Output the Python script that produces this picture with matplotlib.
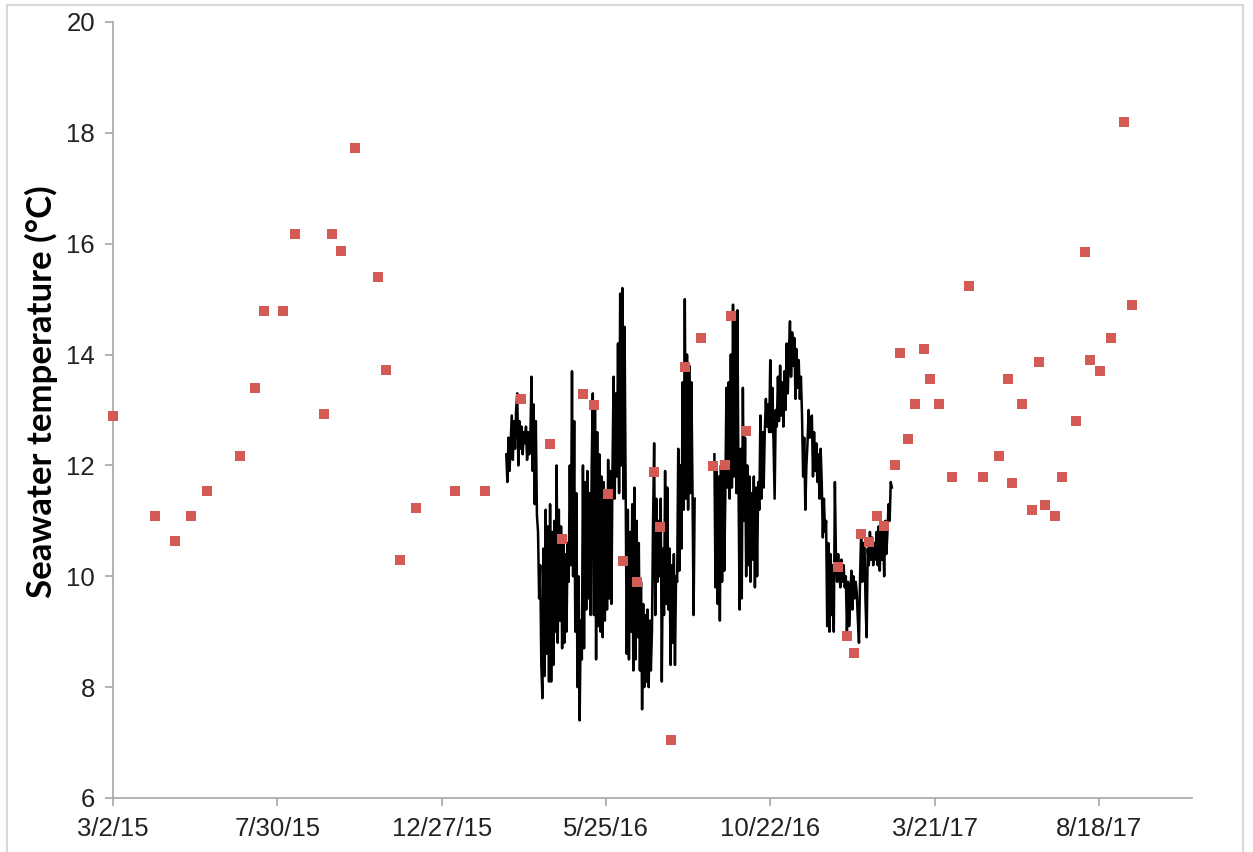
import numpy as np
import pandas as pd
import matplotlib
matplotlib.use('Agg')
import matplotlib.pyplot as plt
from matplotlib.ticker import FuncFormatter
from matplotlib.patches import Rectangle

plt.rcParams['font.family'] = ['Liberation Sans', 'DejaVu Sans']

# discrete water samples (red squares)
sample_dates = ['2015-03-02', '2015-04-09', '2015-04-28', '2015-05-12', '2015-05-27',
                '2015-06-26', '2015-07-10', '2015-07-18', '2015-08-04', '2015-08-15',
                '2015-09-11', '2015-09-18', '2015-09-26', '2015-10-09', '2015-10-30',
                '2015-11-06', '2015-11-19', '2015-12-04', '2016-01-08', '2016-02-05',
                '2016-03-08', '2016-04-04', '2016-04-15', '2016-05-04', '2016-05-14',
                '2016-05-27', '2016-06-10', '2016-06-22', '2016-07-08', '2016-07-13',
                '2016-07-23', '2016-08-05', '2016-08-20', '2016-08-31', '2016-09-11',
                '2016-09-16', '2016-09-30', '2016-12-23', '2016-12-31', '2017-01-06',
                '2017-01-13', '2017-01-20', '2017-01-27', '2017-02-03', '2017-02-13',
                '2017-02-17', '2017-02-25', '2017-03-03', '2017-03-11', '2017-03-17',
                '2017-03-25', '2017-04-06', '2017-04-21', '2017-05-04', '2017-05-19',
                '2017-05-27', '2017-05-31', '2017-06-09', '2017-06-18', '2017-06-24',
                '2017-06-30', '2017-07-09', '2017-07-15', '2017-07-28', '2017-08-05',
                '2017-08-10', '2017-08-19', '2017-08-29', '2017-09-10', '2017-09-17']
sample_temp = [12.90, 11.09, 10.63, 11.09, 11.54,
               12.17, 13.40, 14.79, 14.79, 16.18,
               12.93, 16.18, 15.87, 17.72, 15.40,
               13.72, 10.30, 11.24, 11.54, 11.54,
               13.20, 12.39, 10.67, 13.29, 13.09,
               11.48, 10.27, 9.89, 11.89, 10.88,
               7.05, 13.78, 14.30, 11.99, 12.00,
               14.70, 12.62, 10.16, 8.93, 8.61,
               10.77, 10.61, 11.08, 10.91, 12.00,
               14.02, 12.48, 13.11, 14.10, 13.56,
               13.11, 11.79, 15.24, 11.79, 12.17,
               13.56, 11.69, 13.11, 11.20, 13.86,
               11.29, 11.09, 11.79, 12.80, 15.85,
               13.90, 13.70, 14.30, 18.19, 14.89]

# temperature logger, one reading per day from 2/24/16 (nan = no data)
logger_start = '2016-02-24'
logger_temp = [
    12.2, 11.7, 12.5, 11.9, 12.4, 12.9, 12.1, 12.8, 12.3, 13.0,
    13.3, 12.0, 12.8, 12.3, 12.7, 12.2, 12.6, 12.4, 12.7,
    12.1, 12.6, 12.2, 12.5, 13.6, 11.9, 13.1, 11.3, 12.8, 11.1,
    10.8, 9.6, 10.2, 8.4, 7.8, 10.5, 8.2, 11.2, 8.6, 10.9, 8.1,
    11.3, 8.1, 10.8, 8.4, 11.0, 9.0, 12.0, 8.8, 11.2, 9.2, 10.9, 8.7,
    10.7, 8.8, 10.4, 9.0, 10.6, 9.9, 12.0, 10.2, 13.7, 10.0,
    12.8, 9.0, 11.5, 8.0, 10.0, 7.4, 9.2, 8.5, 12.0, 8.7, 11.7,
    9.4, 11.9, 9.6, 11.5, 9.3, 12.0, 13.3, 9.3, 13.1, 8.5, 12.6,
    9.1, 12.2, 9.0, 11.8, 8.9, 11.7, 9.2, 11.5, 9.4, 12.1, 9.6, 11.9, 9.5,
    12.0, 13.6, 11.4, 13.3, 11.8, 14.2, 11.5, 15.1, 12.0, 15.2, 11.4, 14.5,
    11.4, 8.6, 11.2, 8.5, 10.8, 9.0, 11.3, 8.3, 11.6, 8.5, 11.0, 8.9, 10.6, 8.3,
    9.9, 7.6, 9.5, 8.0, 9.3, 8.1, 9.4, 8.0, 9.2, 8.3, 9.0,
    11.0, 12.4, 9.3, 11.4, 9.9, 11.0, 10.0, 11.4, 8.1, 10.5,
    9.3, 11.9, 9.5, 11.6, 9.4, 10.5, 8.4, 10.2, 8.8, 10.4, 8.4, 10.0,
    9.9, 12.3, 10.1, 12.0, 10.5, 13.5, 11.2, 15.0, 11.4,
    14.0, 11.2, 13.8, 11.5, 13.5, 11.6, 9.3, 11.4,
    np.nan, np.nan, np.nan, np.nan, np.nan, np.nan, np.nan, np.nan, np.nan,
    np.nan, np.nan, np.nan, np.nan, np.nan, np.nan, np.nan, np.nan,
    12.2, 9.8, 12.0, 9.5, 11.8, 9.2, 12.0, 9.9, 11.9, 10.1,
    11.5, 13.4, 11.6, 13.5, 11.4, 14.0, 11.6, 14.9, 11.8, 14.7, 11.5, 14.8,
    11.7, 9.4, 12.3, 9.6, 13.4, 11.0, 12.5,
    10.0, 12.0, 10.2, 11.8, 9.9, 11.5, 10.3, 11.8, 9.8, 11.6, 10.0, 11.7,
    11.2, 12.9, 11.4, 12.6, 11.6, 12.6, 13.2, 12.7, 13.1, 12.6,
    13.9, 12.6, 13.4, 12.4, 11.4, 13.0,
    12.7, 13.6, 12.8, 13.8, 12.9, 13.5, 12.7, 13.7, 13.0, 14.2, 13.3,
    14.0, 14.6, 13.6, 14.4, 13.8, 14.3, 13.2, 14.1, 13.4, 13.9, 13.2, 13.6,
    12.9, 11.8, 12.5, 11.2, 12.0, 12.4, 13.0, 12.5, 12.8,
    12.9, 11.8, 12.6, 11.9, 12.4, 11.7, 12.2, 11.4, 12.3,
    11.7, 10.7, 11.4, 10.8, 11.0, 9.1, 10.6, 9.0, 10.4, 9.3, 10.2, 9.0, 11.7,
    10.3, 9.9, 10.4, 10.0, 9.8, 10.3, 9.9, 10.2, 9.8,
    10.0, 9.0, 9.9, 9.1, 9.5, 10.1, 9.4, 10.0, 9.6, 9.9, 9.7, 9.2, 8.8,
    10.0, 10.8, 9.9, 10.6, 10.6, 9.5, 8.9, 10.5,
    10.2, 10.8, 10.3, 10.7, 10.2, 10.6, 10.3, 10.8, 10.2,
    10.9, 10.1, 11.0, 10.3, 10.8, 10.0, 11.0, 10.4,
    10.8, 11.3, 11.0, 11.7, 11.6]

axis_start = pd.Timestamp('2015-03-02')
tick_dates = pd.date_range(axis_start, periods=7, freq='150D')

fig = plt.figure(figsize=(12.53, 8.52), dpi=100)
ax = fig.add_axes([0.0902, 0.0634, 0.8611, 0.9108])

logger_dates = pd.date_range(logger_start, periods=len(logger_temp), freq='D')
ax.plot(logger_dates, logger_temp, color='black', lw=1.8, zorder=2)
ax.plot(pd.to_datetime(sample_dates), sample_temp, ls='none', marker='s',
        markersize=7.5, color='#D45A55', markeredgewidth=0, zorder=3, clip_on=False)

ax.set_xlim(axis_start, axis_start + pd.Timedelta(days=985))
ax.set_ylim(6, 20)
ax.set_yticks(range(6, 21, 2))
ax.set_xticks(tick_dates)


def date_label(v, pos):
    d = matplotlib.dates.num2date(v)
    return f"{d.month}/{d.day}/{d.year % 100}"


ax.xaxis.set_major_formatter(FuncFormatter(date_label))

for s in ['top', 'right']:
    ax.spines[s].set_visible(False)
for s in ['left', 'bottom']:
    ax.spines[s].set_color('#A6A6A6')
    ax.spines[s].set_linewidth(1.2)
ax.tick_params(axis='both', direction='out', length=6, width=1.2, color='#A6A6A6',
               labelsize=18.5, labelcolor='#222222')
ax.tick_params(axis='x', pad=8)
ax.tick_params(axis='y', pad=7)

ax.set_ylabel('Seawater temperature (°C)', fontsize=25, fontweight='bold',
              family=['Lato', 'DejaVu Sans'], va='center')
ax.yaxis.set_label_coords(-0.066, 0.523)

fig.patches.append(Rectangle((7 / 1253, -0.01), 1236 / 1253, 1 - 5 / 852 + 0.01,
                             transform=fig.transFigure, fill=False,
                             edgecolor='#D9D9D9', lw=1.5))

fig.savefig('out.png', dpi=100)
